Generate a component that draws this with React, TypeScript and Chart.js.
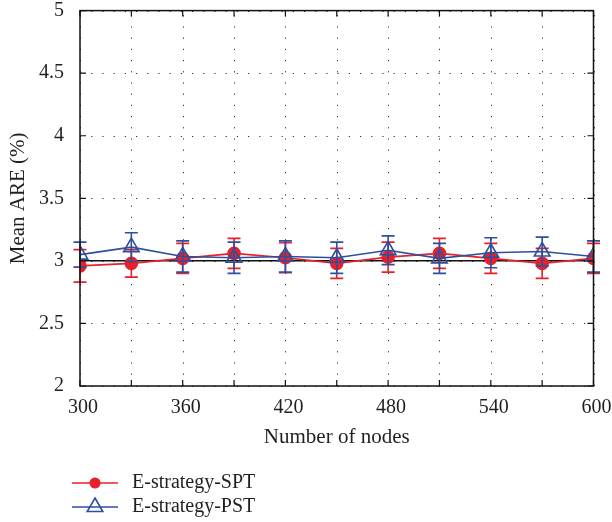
import React, { useEffect, useRef } from "react";
import { Chart, registerables } from "chart.js";

Chart.register(...registerables);

const nodes = [300, 330, 360, 390, 420, 450, 480, 510, 540, 570, 600];
const sptMean = [2.96, 2.98, 3.02, 3.06, 3.025, 2.98, 3.03, 3.06, 3.02, 2.98, 3.02];
const sptErr = [0.13, 0.11, 0.12, 0.12, 0.12, 0.12, 0.12, 0.12, 0.12, 0.12, 0.12];
const pstMean = [3.05, 3.11, 3.035, 3.025, 3.035, 3.025, 3.085, 3.02, 3.065, 3.075, 3.035];
const pstErr = [0.1, 0.115, 0.125, 0.125, 0.125, 0.125, 0.115, 0.12, 0.12, 0.115, 0.125];
const refLineX = [300, 600];
const refLineY = [3, 3];
const xLabelTicks = [300, 360, 420, 480, 540, 600];

const RED = "#e8202a";
const BLUE = "#2d4f9f";
const TEXT = "#231f20";
const FONT = "Liberation Serif";

const customPlugin = {
  id: "custom",
  beforeDatasetsDraw(chart: any) {
    const { ctx, chartArea: a } = chart;
    const xs = chart.scales.x;
    const ys = chart.scales.y;
    ctx.save();
    ctx.strokeStyle = "#333";
    ctx.lineWidth = 1;
    ctx.setLineDash([1.2, 10]);
    xs.ticks.forEach((t: any) => {
      const x = Math.round(xs.getPixelForValue(t.value)) + 0.5;
      ctx.beginPath();
      ctx.moveTo(x, a.bottom);
      ctx.lineTo(x, a.top);
      ctx.stroke();
    });
    ys.ticks.forEach((t: any) => {
      const y = Math.round(ys.getPixelForValue(t.value)) + 0.5;
      ctx.beginPath();
      ctx.moveTo(a.left, y);
      ctx.lineTo(a.right, y);
      ctx.stroke();
    });
    ctx.restore();
  },
  afterDatasetDraw(chart: any, args: any) {
    const ds = chart.data.datasets[args.index];
    if (!ds.errors) return;
    const { ctx } = chart;
    const xs = chart.scales.x;
    const ys = chart.scales.y;
    ctx.save();
    ctx.strokeStyle = ds.borderColor;
    ctx.lineWidth = 1.6;
    const cap = 6.5;
    ds.data.forEach((p: any, i: number) => {
      const x = xs.getPixelForValue(p.x);
      const yt = ys.getPixelForValue(p.y + ds.errors[i]);
      const yb = ys.getPixelForValue(p.y - ds.errors[i]);
      ctx.beginPath();
      ctx.moveTo(x, yt);
      ctx.lineTo(x, yb);
      ctx.moveTo(x - cap, yt);
      ctx.lineTo(x + cap, yt);
      ctx.moveTo(x - cap, yb);
      ctx.lineTo(x + cap, yb);
      ctx.stroke();
    });
    ctx.restore();
  },
  afterDraw(chart: any) {
    const { ctx, chartArea: a } = chart;
    const xs = chart.scales.x;
    const ys = chart.scales.y;
    ctx.save();
    ctx.strokeStyle = "#111";
    ctx.lineWidth = 1.5;
    ctx.strokeRect(a.left, a.top, a.right - a.left, a.bottom - a.top);
    ctx.lineWidth = 1.2;
    const tl = 6;
    xs.ticks.forEach((t: any) => {
      const x = xs.getPixelForValue(t.value);
      ctx.beginPath();
      ctx.moveTo(x, a.bottom);
      ctx.lineTo(x, a.bottom - tl);
      ctx.moveTo(x, a.top);
      ctx.lineTo(x, a.top + tl);
      ctx.stroke();
    });
    ys.ticks.forEach((t: any) => {
      const y = ys.getPixelForValue(t.value);
      ctx.beginPath();
      ctx.moveTo(a.left, y);
      ctx.lineTo(a.left + tl, y);
      ctx.moveTo(a.right, y);
      ctx.lineTo(a.right - tl, y);
      ctx.stroke();
    });
    // legend
    const rows = [0, 1];
    rows.forEach((idx, r) => {
      const ds = chart.data.datasets[idx];
      const y = 483 + r * 24;
      ctx.strokeStyle = ds.borderColor;
      ctx.lineWidth = 1.6;
      ctx.beginPath();
      ctx.moveTo(72, y);
      ctx.lineTo(118, y);
      ctx.stroke();
      const mx = 95;
      if (ds.pointStyle === "circle") {
        ctx.fillStyle = ds.borderColor;
        ctx.beginPath();
        ctx.arc(mx, y, 5.5, 0, Math.PI * 2);
        ctx.fill();
      } else {
        const rr = 9;
        ctx.beginPath();
        ctx.moveTo(mx, y - rr);
        ctx.lineTo(mx + rr * 0.866, y + rr * 0.5);
        ctx.lineTo(mx - rr * 0.866, y + rr * 0.5);
        ctx.closePath();
        ctx.stroke();
      }
      ctx.fillStyle = TEXT;
      ctx.font = `20px "${FONT}"`;
      ctx.textAlign = "left";
      ctx.textBaseline = "middle";
      ctx.fillText(ds.label, 132, y);
    });
    ctx.restore();
  },
};

export default function App() {
  const ref = useRef<HTMLCanvasElement | null>(null);
  useEffect(() => {
    document.body.style.margin = "0";
    const chart = new Chart(ref.current as HTMLCanvasElement, {
      type: "line",
      data: {
        datasets: [
          {
            label: "E-strategy-SPT",
            data: nodes.map((x, i) => ({ x, y: sptMean[i] })),
            errors: sptErr,
            borderColor: RED,
            backgroundColor: RED,
            borderWidth: 1.6,
            pointStyle: "circle",
            pointRadius: 6,
            pointBackgroundColor: RED,
            pointBorderColor: RED,
            order: 1,
          } as any,
          {
            label: "E-strategy-PST",
            data: nodes.map((x, i) => ({ x, y: pstMean[i] })),
            errors: pstErr,
            borderColor: BLUE,
            backgroundColor: "rgba(0,0,0,0)",
            borderWidth: 1.6,
            pointStyle: "triangle",
            pointRadius: 9,
            pointBorderWidth: 1.6,
            pointBackgroundColor: "rgba(0,0,0,0)",
            pointBorderColor: BLUE,
            order: 0,
          } as any,
          {
            label: "",
            data: refLineX.map((x, i) => ({ x, y: refLineY[i] })),
            borderColor: "#111",
            borderWidth: 1.5,
            pointRadius: 0,
            order: 2,
          } as any,
        ],
      },
      options: {
        responsive: false,
        animation: false,
        layout: { padding: { top: 6, right: 18.5, bottom: 70, left: 0 } },
        plugins: { legend: { display: false }, tooltip: { enabled: false } },
        scales: {
          x: {
            type: "linear",
            min: 300,
            max: 600,
            grid: { display: false },
            border: { display: false },
            afterFit: (s: any) => {
              s.height = 66;
              s.paddingLeft = 0;
              s.paddingRight = 0;
            },
            afterBuildTicks: (s: any) => {
              s.ticks = nodes.map((v) => ({ value: v }));
            },
            ticks: {
              autoSkip: false,
              maxRotation: 0,
              padding: 2,
              labelOffset: 3,
              color: TEXT,
              font: { family: FONT, size: 20 },
              callback: (v: any) => (xLabelTicks.includes(Number(v)) ? String(v) : ""),
            },
            title: {
              display: true,
              text: "Number of nodes",
              color: TEXT,
              font: { family: FONT, size: 21 },
              padding: { top: 4, bottom: 2 },
            },
          },
          y: {
            min: 2,
            max: 5,
            grid: { display: false },
            border: { display: false },
            afterFit: (s: any) => {
              s.width = 80;
              s.paddingTop = 0;
              s.paddingBottom = 0;
            },
            ticks: {
              stepSize: 0.5,
              padding: 8,
              color: TEXT,
              font: { family: FONT, size: 20 },
              callback: (v: any) => String(Number(v)),
            },
            title: {
              display: true,
              text: "Mean ARE (%)",
              color: TEXT,
              font: { family: FONT, size: 21 },
              padding: { top: 5.5, bottom: 4 },
            },
          },
        },
      },
      plugins: [customPlugin],
    });
    return () => chart.destroy();
  }, []);
  return (
    <div style={{ width: 612, height: 522 }}>
      <canvas ref={ref} width={612} height={522} />
    </div>
  );
}
